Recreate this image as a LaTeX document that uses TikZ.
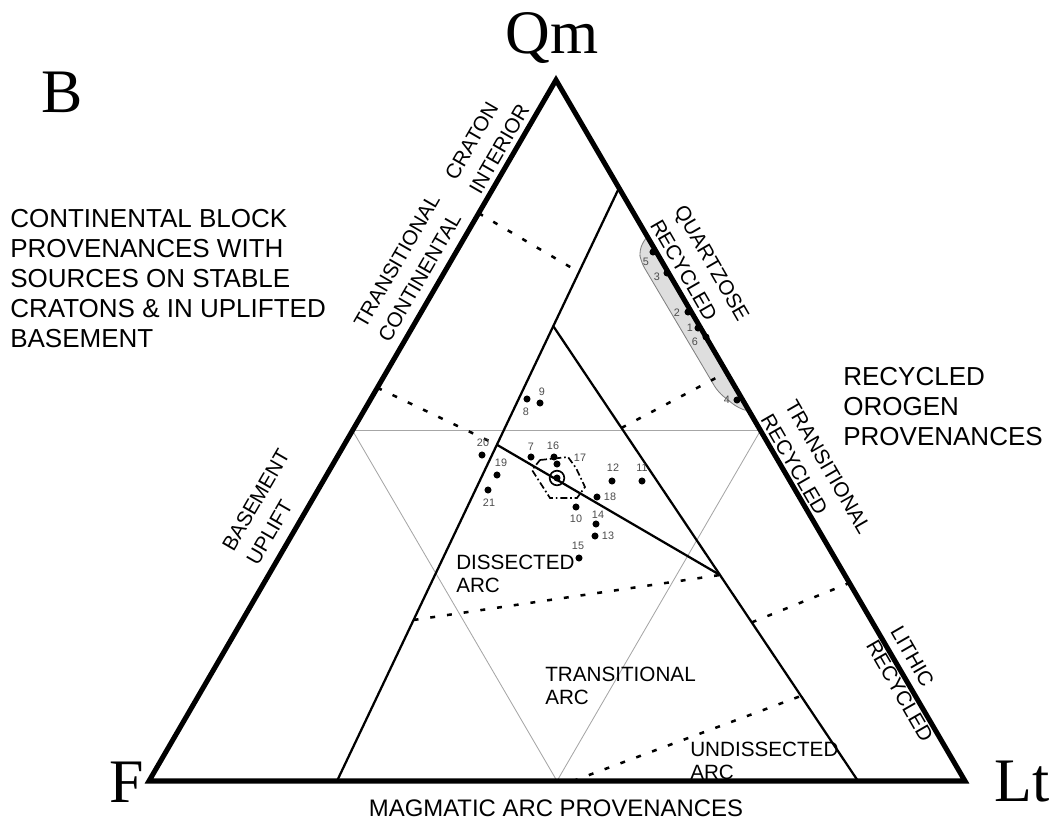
\documentclass[tikz,border=0pt]{standalone}
\usepackage{fontspec}
\setmainfont{Liberation Sans}
\newfontfamily\serf{Liberation Serif}
\usetikzlibrary{calc}
\begin{document}
\begin{tikzpicture}[x=0.025cm,y=-0.025cm,
 edge/.style={line width=3.6pt, line join=miter},
 bound/.style={line width=1.6pt},
 guide/.style={line width=0.6pt, draw=black!35},
 dotb/.style={line width=1.8pt, dash pattern=on 3.5pt off 8.5pt},
 pt/.style={circle, fill=black, inner sep=0pt, minimum size=5pt},
 num/.style={font=\fontsize{7.7}{8}\selectfont, text=black!70, inner sep=0pt},
 big/.style={font=\fontsize{18.5}{21.3}\selectfont, align=left, inner sep=0pt, anchor=north west},
 mid/.style={font=\fontsize{14.7}{16.3}\selectfont, align=left, inner sep=0pt, anchor=north west},
 side/.style={font=\fontsize{14.7}{20}\selectfont, align=left, inner sep=0pt},
 corner/.style={font=\serf\fontsize{44}{44}\selectfont, inner sep=0pt}]
\useasboundingbox (0,0) rectangle (1055,822);
\coordinate (Qm) at (556,80);
\coordinate (F) at (149,781);
\coordinate (Lt) at (965,781);
% quartzose recycled field
\draw[draw=black!50, fill=black!13, line width=0.6pt, rounded corners=5pt]
  (648,234) -- (639,250) -- (641,262) -- (718,392) -- (738,408) -- (751,412) -- cycle;
% boundary construction points
\coordinate (A0) at (337,781);
\coordinate (A1) at ($(Lt)!0.846!(Qm)$);
\coordinate (B0) at (858,781);
\coordinate (J) at (720,575);
\coordinate (P) at (intersection of A0--A1 and B0--J);
\coordinate (C0) at ($(A0)!0.567!(A1)$);
% grey 50% lines
\coordinate (GL) at ($(F)!0.5!(Qm)$);
\coordinate (GR) at ($(Lt)!0.5!(Qm)$);
\coordinate (GB) at ($(F)!0.5!(Lt)$);
\draw[guide] (GL) -- (GR) -- (GB) -- cycle;
% dotted boundaries
\coordinate (d1a) at ($(F)!0.81!(Qm)$);
\coordinate (d1b) at ($(A0)!0.858!(A1)$);
\coordinate (d2a) at ($(F)!0.561!(Qm)$);
\coordinate (d3a) at ($(B0)!1.714!(J)$);
\coordinate (d3b) at ($(Lt)!0.583!(Qm)$);
\coordinate (d4a) at ($(B0)!0.770!(J)$);
\coordinate (d4b) at ($(Lt)!0.2825!(Qm)$);
\coordinate (d5a) at ($(A0)!0.2715!(A1)$);
\coordinate (d6a) at (573,781);
\coordinate (d6b) at ($(B0)!0.413!(J)$);
\draw[dotb] (d1a) -- (d1b);
\draw[dotb] (d2a) -- (C0);
\draw[dotb] (d3a) -- (d3b);
\draw[dotb] (d4a) -- (d4b);
\draw[dotb] (d5a) -- (J);
\draw[dotb] (d6a) -- (d6b);
% solid boundaries
\draw[bound] (A0) -- (A1);
\draw[bound] (B0) -- (P);
\draw[bound] (C0) -- (J);
% main triangle
\draw[edge] (Qm) -- (F) -- (Lt) -- cycle;
% hexagon + ring
\draw[line width=1.2pt, dash pattern=on 5pt off 2pt on 1.2pt off 2pt]
  (540,460) -- (568,457) -- (576,468) -- (585,487) -- (577,498) -- (550,498) -- (532,470) -- cycle;
\node[pt] (ring) at (557,478) {};
\draw[line width=1.2pt] (ring.center) circle (5.2pt);
% data points
\foreach \n/\x/\y/\lx/\ly in {5/653/252/646/262, 3/667/273/657/277, 2/688/312/677/313,
  1/698/328/690/328, 6/706/337/695/342, 4/737/400/727/400,
  8/527/399/526/412, 9/540/403/542/392, 20/482/455/483/443, 7/531/457/531/447,
  16/554/457/553/446, 17/557/464/580/458, 19/497/475/501/463, 21/488/490/489/503,
  12/612/481/613/468, 11/642/481/642/468, 18/597/497/610/497, 10/576/507/576/519,
  14/596/524/598/515, 13/595/536/608/536, 15/579/558/578/546}{
  \node[pt] (p\n) at (\x,\y) {};
  \node[num] (l\n) at (\lx,\ly) {\n};
}
% corner labels
\node[corner] (tQm) at (552,38) {Qm};
\node[corner] (tF) at (127,782) {F};
\node[corner] (tLt) at (1022,782) {Lt};
\node[corner] (tB) at (62,92) {B};
% provenance blocks
\node[big] (cont) at (10,209) {CONTINENTAL BLOCK\\PROVENANCES WITH\\SOURCES ON STABLE\\CRATONS \& IN UPLIFTED\\BASEMENT};
\node[big] (recy) at (843,367) {RECYCLED\\OROGEN\\PROVENANCES};
\node[font=\fontsize{17}{20}\selectfont, inner sep=0pt] (magm) at (556,808) {MAGMATIC ARC PROVENANCES};
% inner field labels
\node[mid] (diss) at (456,555) {DISSECTED\\ARC};
\node[mid] (tarc) at (545,667) {TRANSITIONAL\\ARC};
\node[mid] (undi) at (690,742) {UNDISSECTED\\ARC};
% side labels
\node[side, rotate=60] (crat) at (487,142) {CRATON\\INTERIOR};
\node[side, rotate=60] (tcon) at (409,268) {TRANSITIONAL\\CONTINENTAL};
\node[side, rotate=60] (base) at (268,507) {BASEMENT\\UPLIFT};
\node[side, rotate=-60] (quar) at (700,270) {QUARTZOSE\\RECYCLED};
\node[side, rotate=-60] (trec) at (816,474) {TRANSITIONAL\\RECYCLED};
\node[side, rotate=-60] (lith) at (912,684) {LITHIC\\RECYCLED};
\end{tikzpicture}
\end{document}
